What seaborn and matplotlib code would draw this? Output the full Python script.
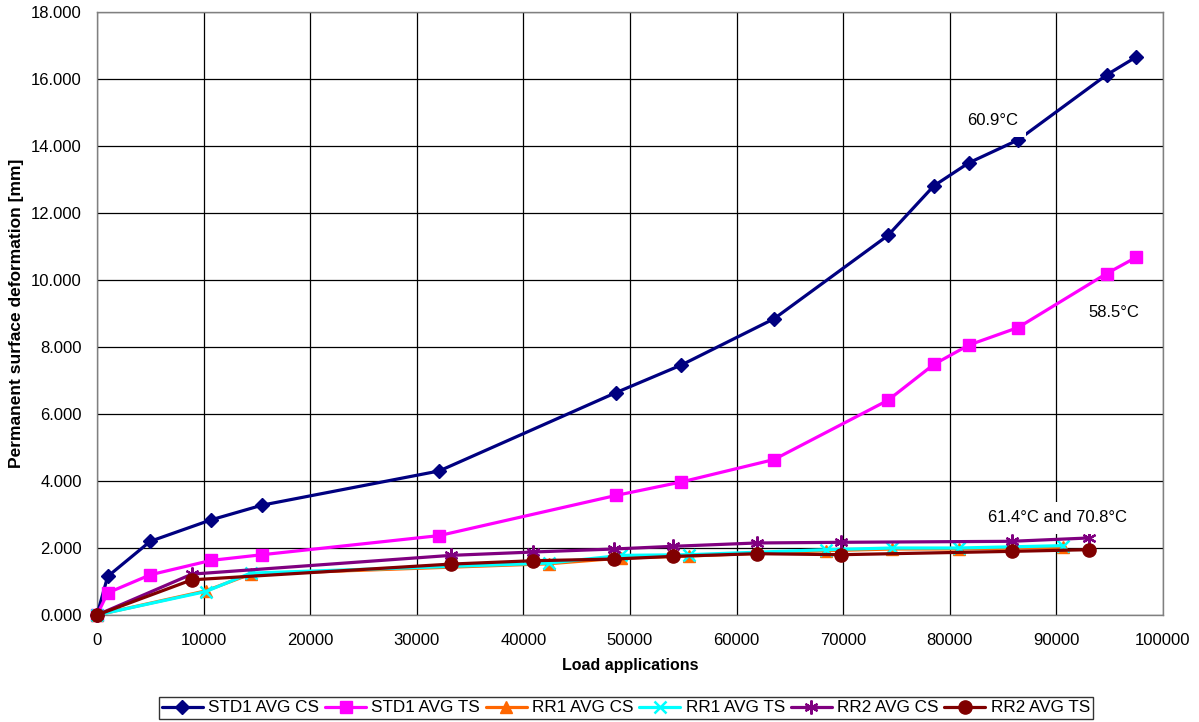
import matplotlib
matplotlib.use("Agg")
import matplotlib.pyplot as plt
import matplotlib.ticker as mticker
import seaborn as sns
import pandas as pd

# Load applications at which each section was measured
std1_x = [0, 1000, 5000, 10700, 15500, 32100, 48700, 54800, 63500, 74200,
          78500, 81800, 86400, 94700, 97500]
rr1_x = [0, 10200, 14400, 42400, 49200, 55500, 68400, 74600, 80900, 90600]
rr2_x = [0, 8900, 33200, 40900, 48500, 54000, 61900, 69800, 85800, 93100]

# Permanent surface deformation [mm]
std1_cs = [0, 1.15, 2.20, 2.84, 3.28, 4.30, 6.64, 7.46, 8.84, 11.33,
           12.81, 13.50, 14.18, 16.12, 16.66]
std1_ts = [0, 0.66, 1.20, 1.63, 1.80, 2.37, 3.57, 3.97, 4.64, 6.41,
           7.48, 8.06, 8.58, 10.19, 10.68]
rr1_cs = [0, 0.72, 1.22, 1.53, 1.70, 1.76, 1.92, 1.97, 1.97, 2.02]
rr1_ts = [0, 0.70, 1.25, 1.55, 1.78, 1.80, 1.95, 2.00, 2.00, 2.07]
rr2_cs = [0, 1.22, 1.78, 1.88, 1.97, 2.05, 2.15, 2.17, 2.20, 2.30]
rr2_ts = [0, 1.05, 1.52, 1.62, 1.67, 1.75, 1.83, 1.80, 1.90, 1.95]

series_names = ["STD1 AVG CS", "STD1 AVG TS", "RR1 AVG CS",
                "RR1 AVG TS", "RR2 AVG CS", "RR2 AVG TS"]
x_ticks = list(range(0, 100001, 10000))
y_ticks = [0, 2, 4, 6, 8, 10, 12, 14, 16, 18]
temp_labels = ["60.9°C", "58.5°C", "61.4°C and 70.8°C"]
temp_pos = [(84000, 14.75), (95400, 9.02), (90100, 2.90)]

sns.set_theme(style="white")
plt.rcParams["font.family"] = ["Liberation Sans", "DejaVu Sans"]
plt.rcParams["text.color"] = "black"
plt.rcParams["axes.labelcolor"] = "black"

styles = {
    "STD1 AVG CS": dict(color="#000080", marker="D", ms=7.5),
    "STD1 AVG TS": dict(color="#FF00FF", marker="s", ms=8.5),
    "RR1 AVG CS": dict(color="#FF6600", marker="^", ms=8.5),
    "RR1 AVG TS": dict(color="#00FFFF", marker="x", ms=8, mew=1.8),
    "RR2 AVG CS": dict(color="#800080", marker=(6, 2, 0), ms=10, mew=1.6),
    "RR2 AVG TS": dict(color="#800000", marker="o", ms=9.5),
}

xs = [std1_x, std1_x, rr1_x, rr1_x, rr2_x, rr2_x]
ys = [std1_cs, std1_ts, rr1_cs, rr1_ts, rr2_cs, rr2_ts]

fig = plt.figure(figsize=(11.99, 7.22), dpi=100)
ax = fig.add_axes([97 / 1199, 1 - 615 / 722, (1163 - 97) / 1199, (615 - 12) / 722])

for name, x, y in zip(series_names, xs, ys):
    st = styles[name]
    df = pd.DataFrame({"x": x, "y": y})
    sns.lineplot(data=df, x="x", y="y", ax=ax, color=st["color"],
                 marker=st["marker"], markersize=st["ms"],
                 markeredgecolor=st["color"], markerfacecolor=st["color"],
                 markeredgewidth=st.get("mew", 1.0), linewidth=2.3,
                 label=name, clip_on=False, zorder=3, estimator=None)

ax.set_xlim(0, 100000)
ax.set_ylim(0, 18)
ax.set_xticks(x_ticks)
ax.set_yticks(y_ticks)
ax.xaxis.set_major_formatter(mticker.FuncFormatter(lambda v, p: f"{int(v)}"))
ax.yaxis.set_major_formatter(mticker.FuncFormatter(lambda v, p: f"{v:.3f}"))
ax.tick_params(axis="both", which="major", labelsize=12, length=5,
               width=1, color="black", direction="out", labelcolor="black")
ax.tick_params(axis="x", pad=8)
ax.tick_params(axis="y", pad=6)
ax.grid(True, color="black", linewidth=0.9)
ax.set_axisbelow(True)
for side in ["left", "bottom", "top", "right"]:
    ax.spines[side].set_color("#808080")
    ax.spines[side].set_linewidth(1.0)

ax.set_xlabel("Load applications", fontsize=11.5, fontweight="bold", labelpad=7)
ax.set_ylabel("Permanent surface deformation [mm]", fontsize=12.5,
              fontweight="bold", labelpad=5)

for txt, (tx, ty) in zip(temp_labels, temp_pos):
    ax.text(tx, ty, txt, fontsize=12, ha="center", va="center", zorder=5,
            color="black",
            bbox=dict(boxstyle="square,pad=0.5", fc="white", ec="none"))

handles, labels = ax.get_legend_handles_labels()
ax.legend_.remove()
leg = fig.legend(handles, labels, loc="center", bbox_to_anchor=(0.522, 1 - 708 / 722),
                 ncol=6, fontsize=12.3, frameon=True, fancybox=False,
                 edgecolor="black", handlelength=2.4, handletextpad=0.3,
                 columnspacing=0.35, borderpad=0.2, borderaxespad=0)
leg.get_frame().set_linewidth(1.0)
for t in leg.get_texts():
    t.set_color("black")

fig.savefig("out.png", dpi=100, facecolor="white")
